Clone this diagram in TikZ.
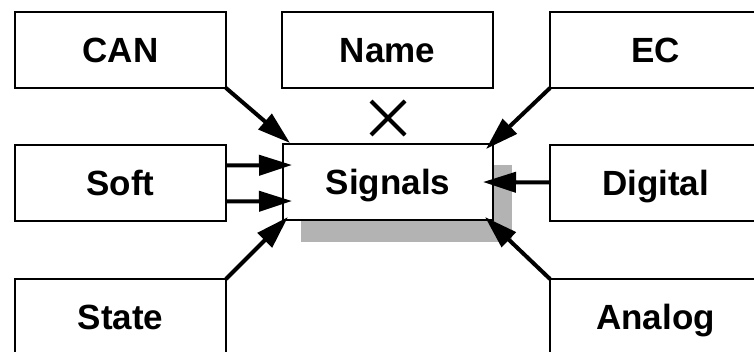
\documentclass[tikz,border=0pt]{standalone}
\usepackage{fontspec}
\setmainfont{Liberation Sans}
\usetikzlibrary{arrows.meta,shapes.misc,calc,backgrounds}
\definecolor{shadowgray}{HTML}{B3B3B3}
\begin{document}
\begin{tikzpicture}[x=1pt,y=-1pt,
  box/.style={draw, line width=2pt, fill=white, outer sep=0pt, inner sep=0pt,
    minimum width=211pt, minimum height=76pt, text height=25pt, text depth=0pt,
    font=\bfseries\fontsize{35}{40}\selectfont},
  feed/.style={line width=4pt, -{Triangle[length=33pt,width=20pt]}}]
\useasboundingbox (0,0) rectangle (754,351);
\clip (0,0) rectangle (754,351);

% outer ring of sources
\node[box] (can)     at (120.5,50)  {CAN};
\node[box] (name)    at (387.5,50)  {Name};
\node[box] (ec)      at (655.5,50)  {EC};
\node[box] (soft)    at (120.5,182.5) {Soft};
\node[box] (digital) at (655.5,182.5) {Digital};
\node[box] (state)   at (120.5,317) {State};
\node[box] (analog)  at (655.5,317) {Analog};

% central box with its drop shadow
\node[box, minimum width=210pt] (sig) at (388,182) {Signals};
\begin{scope}[on background layer]
  \fill[shadowgray] ([shift={(18,21)}]sig.north west) rectangle ([shift={(19,22)}]sig.south east);
\end{scope}

% cross between Name and Signals
\node[cross out, draw, line width=4pt, minimum size=30pt, inner sep=0pt] (cross) at (388,118) {};

% connectors
\draw[feed] (can.south east) -- ($(sig.north west)+(7,-1)$);
\draw[feed] ($(soft.east)+(0,-17)$) -- ($(sig.west)+(9,-17)$);
\draw[feed] ($(soft.east)+(0,19)$) -- ($(sig.west)+(9,19)$);
\draw[feed] (state.north east) -- ($(sig.south west)+(5,-3)$);
\draw[feed] (ec.south west) -- ($(sig.north east)+(-7,5)$);
\draw[feed] (digital.west) -- ($(sig.east)+(-10,0)$);
\draw[feed] (analog.north west) -- ($(sig.south east)+(-8,-3)$);
\end{tikzpicture}
\end{document}
